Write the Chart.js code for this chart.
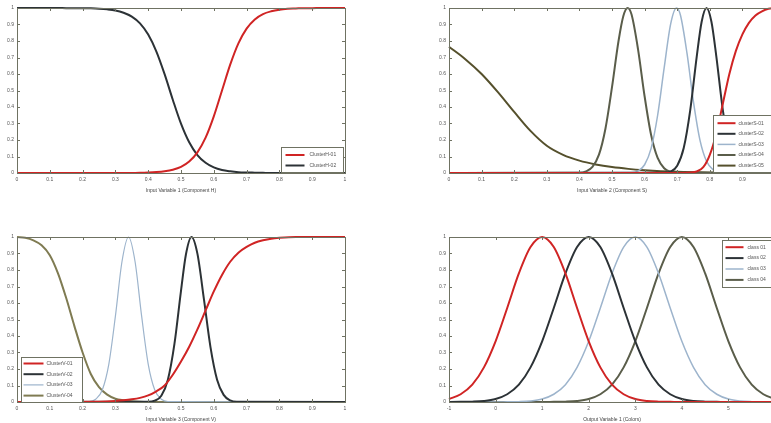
<!DOCTYPE html>
<html><head><meta charset="utf-8">
<script src="https://cdn.jsdelivr.net/npm/chart.js@4.4.1/dist/chart.umd.min.js"></script>
<style>
html,body{margin:0;padding:0;background:#fff;}
#wrap{position:relative;width:771px;height:423px;overflow:hidden;background:#fff;}
canvas{position:absolute;}
</style></head><body>
<div id="wrap">
<canvas id="c1" width="360" height="194" style="left:0px;top:0px"></canvas>
<canvas id="c2" width="360" height="194" style="left:430px;top:0px"></canvas>
<canvas id="c3" width="360" height="194" style="left:0px;top:229px"></canvas>
<canvas id="c4" width="360" height="194" style="left:430px;top:229px"></canvas>
</div>
<script>
// ---------- tick labels ----------
const unitTicks = ['0','0.1','0.2','0.3','0.4','0.5','0.6','0.7','0.8','0.9','1'];
const yTicks = ['0','0.1','0.2','0.3','0.4','0.5','0.6','0.7','0.8','0.9','1'];
const outTicks = ['-1','0','1','2','3','4','5','6'];

// ---------- plot 1 : Component H ----------
const hLabels = ['ClusterH-01','ClusterH-02'];
const hX = [0,0.025,0.05,0.075,0.1,0.125,0.15,0.175,0.2,0.225,0.25,0.275,0.3,0.325,0.35,0.375,0.4,0.425,0.45,0.475,0.5,0.525,0.55,0.575,0.6,0.625,0.65,0.675,0.7,0.725,0.75,0.775,0.8,0.825,0.85,0.875,0.9,0.925,0.95,0.975,1];
const h01 = [0,0,0,0,0,0,0,0,0,0,0,0,0,0,0,0.001,0.003,0.006,0.011,0.02,0.037,0.069,0.125,0.214,0.343,0.5,0.657,0.786,0.875,0.931,0.963,0.98,0.99,0.995,0.997,0.999,0.999,1,1,1,1];
const h02 = [1,1,1,1,1,1,0.999,0.999,0.999,0.998,0.996,0.992,0.985,0.971,0.948,0.907,0.839,0.736,0.599,0.444,0.299,0.186,0.109,0.062,0.034,0.018,0.01,0.005,0.003,0.002,0.001,0,0,0,0,0,0,0,0,0,0];

// ---------- plot 2 : Component S ----------
const sLabels = ['clusterS-01','clusterS-02','clusterS-03','clusterS-04','clusterS-05'];
const s01X = [0,0.70,0.74,0.76,0.78,0.80,0.82,0.84,0.86,0.88,0.90,0.92,0.94,0.96,0.98,1.0];
const s01Y = [0,0,0.003,0.01,0.035,0.11,0.24,0.42,0.60,0.74,0.84,0.91,0.955,0.98,0.995,1];
const s02X = [0,0.66,0.68,0.70,0.72,0.74,0.76,0.775,0.79,0.805,0.82,0.84,0.86,0.88,0.90,0.92,1];
const s02Y = [0,0.002,0.009,0.044,0.151,0.381,0.707,0.917,1,0.917,0.707,0.381,0.151,0.044,0.009,0.002,0];
const s03X = [0,0.56,0.58,0.60,0.62,0.64,0.66,0.68,0.698,0.71,0.73,0.75,0.77,0.79,0.81,0.83,0.85,1];
const s03Y = [0,0.003,0.013,0.05,0.149,0.35,0.637,0.904,1,0.956,0.726,0.43,0.198,0.071,0.02,0.004,0.001,0];
const s04X = [0,0.40,0.42,0.44,0.46,0.48,0.50,0.52,0.535,0.548,0.56,0.58,0.60,0.62,0.64,0.66,0.68,0.70,1];
const s04Y = [0,0.002,0.01,0.037,0.111,0.27,0.52,0.8,0.953,1,0.96,0.748,0.465,0.23,0.091,0.029,0.007,0.001,0];
const s05X = [0,0.05,0.1,0.15,0.2,0.25,0.3,0.35,0.4,0.45,0.5,0.55,0.6,0.65,0.7,0.8,0.9,1];
const s05Y = [0.765,0.69,0.6,0.49,0.37,0.255,0.165,0.11,0.075,0.052,0.036,0.025,0.017,0.011,0.007,0.003,0.001,0];

// ---------- plot 3 : Component V ----------
const vLabels = ['ClusterV-01','ClusterV-02','ClusterV-03','ClusterV-04'];
const v01X = [0,0.25,0.3,0.325,0.35,0.375,0.4,0.425,0.45,0.475,0.5,0.525,0.55,0.575,0.6,0.625,0.65,0.675,0.7,0.725,0.75,0.775,0.8,0.85,1];
const v01Y = [0,0.002,0.006,0.01,0.016,0.025,0.04,0.065,0.1,0.165,0.245,0.335,0.44,0.555,0.67,0.77,0.85,0.905,0.94,0.965,0.98,0.99,0.995,1,1];
const v02X = [0,0.40,0.42,0.44,0.46,0.48,0.50,0.515,0.532,0.55,0.57,0.59,0.61,0.63,0.65,0.67,1];
const v02Y = [0,0.001,0.008,0.038,0.135,0.352,0.674,0.894,1,0.899,0.622,0.331,0.135,0.043,0.01,0.002,0];
const v03X = [0,0.22,0.24,0.26,0.28,0.30,0.32,0.34,0.36,0.38,0.40,0.42,0.44,0.46,1];
const v03Y = [0,0.003,0.017,0.073,0.23,0.52,0.85,1,0.85,0.52,0.23,0.073,0.017,0.003,0];
const v04X = [0,0.025,0.05,0.075,0.1,0.125,0.15,0.175,0.2,0.225,0.25,0.275,0.3,0.325,0.35,0.375,0.4,1];
const v04Y = [1,0.995,0.98,0.95,0.89,0.78,0.63,0.46,0.3,0.17,0.09,0.045,0.02,0.01,0.004,0.001,0,0];

// ---------- plot 4 : Output (Colors) ----------
const oLabels = ['class 01','class 02','class 03','class 04'];
const oX = [-1,-0.75,-0.5,-0.25,0,0.25,0.5,0.75,1,1.25,1.5,1.75,2,2.25,2.5,2.75,3,3.25,3.5,3.75,4,4.25,4.5,4.75,5,5.25,5.5,5.75,6];
const o01 = [0.018,0.047,0.105,0.21,0.368,0.57,0.779,0.939,1,0.939,0.779,0.57,0.368,0.21,0.105,0.047,0.018,0.006,0.002,0.001,0,0,0,0,0,0,0,0,0];
const o02 = [0,0.001,0.002,0.006,0.018,0.047,0.105,0.21,0.368,0.57,0.779,0.939,1,0.939,0.779,0.57,0.368,0.21,0.105,0.047,0.018,0.006,0.002,0.001,0,0,0,0,0];
const o03 = [0,0,0,0,0,0.001,0.002,0.006,0.018,0.047,0.105,0.21,0.368,0.57,0.779,0.939,1,0.939,0.779,0.57,0.368,0.21,0.105,0.047,0.018,0.006,0.002,0.001,0];
const o04 = [0,0,0,0,0,0,0,0,0,0.001,0.002,0.006,0.018,0.047,0.105,0.21,0.368,0.57,0.779,0.939,1,0.939,0.779,0.57,0.368,0.21,0.105,0.047,0.018];

// ---------- helpers ----------
const FONT = 'Liberation Sans, Arial, sans-serif';
const pts = (xs, ys) => xs.map((x, i) => ({x: x, y: ys[i]}));

const matBox = {
  id: 'matBox',
  afterDatasetsDraw(chart) {
    const {ctx, chartArea: a, scales} = chart;
    const L = 3;
    ctx.save();
    ctx.strokeStyle = '#6f7262';
    ctx.lineWidth = 1;
    ctx.beginPath();
    scales.x.ticks.forEach(t => {
      const px = Math.round(scales.x.getPixelForValue(t.value)) + 0.5;
      ctx.moveTo(px, a.bottom); ctx.lineTo(px, a.bottom - L);
      ctx.moveTo(px, a.top); ctx.lineTo(px, a.top + L);
    });
    scales.y.ticks.forEach(t => {
      const py = Math.round(scales.y.getPixelForValue(t.value)) + 0.5;
      ctx.moveTo(a.left, py); ctx.lineTo(a.left + L, py);
      ctx.moveTo(a.right, py); ctx.lineTo(a.right - L, py);
    });
    ctx.stroke();
    ctx.strokeRect(Math.round(a.left) + 0.5, Math.round(a.top) + 0.5, Math.round(a.right - a.left), Math.round(a.bottom - a.top));
    ctx.restore();
  }
};

const matLegend = {
  id: 'matLegend',
  afterDraw(chart, args, o) {
    if (!o || o.left === undefined) return;
    const {ctx, chartArea: a} = chart;
    const bx = Math.round(a.left + o.left) + 0.5, by = Math.round(a.top + o.top) + 0.5;
    ctx.save();
    ctx.fillStyle = '#ffffff';
    ctx.fillRect(bx, by, o.width, o.height);
    ctx.strokeStyle = '#6f7262';
    ctx.lineWidth = 1;
    ctx.strokeRect(bx, by, o.width, o.height);
    ctx.font = '5px ' + FONT;
    ctx.textBaseline = 'middle';
    chart.data.datasets.forEach((ds, i) => {
      const y = by + o.first + i * o.gap;
      ctx.strokeStyle = ds.borderColor;
      ctx.lineWidth = ds.borderWidth;
      ctx.beginPath();
      ctx.moveTo(bx + o.l0, y); ctx.lineTo(bx + o.l1, y);
      ctx.stroke();
      ctx.fillStyle = '#555';
      ctx.fillText(ds.label, bx + o.tx, y);
    });
    ctx.restore();
  }
};

function ds(label, data, color, width) {
  return {label, data, borderColor: color, borderWidth: width, pointRadius: 0, fill: false,
          cubicInterpolationMode: 'monotone', clip: 3};
}

function makeChart(id, datasets, xmin, xmax, xstep, xLabels, title, yW, legend) {
  return new Chart(document.getElementById(id), {
    type: 'line',
    data: {datasets},
    plugins: [matBox, matLegend],
    options: {
      responsive: false, animation: false, devicePixelRatio: 1,
      layout: {padding: {left: 0, right: 15, top: 8, bottom: 0}},
      plugins: {legend: {display: false}, tooltip: {enabled: false}, matLegend: legend},
      scales: {
        x: {type: 'linear', min: xmin, max: xmax,
            grid: {display: false, drawTicks: false}, border: {display: false},
            ticks: {stepSize: xstep, autoSkip: false, maxRotation: 0, padding: 4,
                    font: {size: 5, family: FONT}, color: '#555',
                    callback: (v, i) => xLabels[i]},
            title: {display: true, text: title, color: '#444', font: {size: 5, family: FONT},
                    padding: {top: 0, bottom: 0}},
            afterFit: s => { s.height = 21; }},
        y: {type: 'linear', min: 0, max: 1,
            grid: {display: false, drawTicks: false}, border: {display: false},
            ticks: {stepSize: 0.1, autoSkip: false, padding: 3,
                    font: {size: 5, family: FONT}, color: '#555',
                    callback: (v, i) => yTicks[i]},
            afterFit: s => { s.width = yW; }}
      }
    }
  });
}

const RED = '#d02424', DARK = '#2c3236', LIGHT = '#9db4cc', OLIVE = '#5a5d4a', BROWN = '#55502c', KHAKI = '#7f7b52';

makeChart('c1', [
  ds(hLabels[0], pts(hX, h01), RED, 2),
  ds(hLabels[1], pts(hX, h02), DARK, 2)
], 0, 1, 0.1, unitTicks, 'Input Variable 1 (Component H)', 17,
  {left: 264, top: 139, width: 62, height: 25, first: 7.5, gap: 10.5, l0: 4, l1: 23, tx: 28});

makeChart('c2', [
  ds(sLabels[0], pts(s01X, s01Y), RED, 2),
  ds(sLabels[1], pts(s02X, s02Y), DARK, 2),
  ds(sLabels[2], pts(s03X, s03Y), LIGHT, 1.5),
  ds(sLabels[3], pts(s04X, s04Y), OLIVE, 2),
  ds(sLabels[4], pts(s05X, s05Y), BROWN, 2)
], 0, 1, 0.1, unitTicks, 'Input Variable 2 (Component S)', 19,
  {left: 264, top: 107, width: 66, height: 57, first: 7.7, gap: 10.6, l0: 4, l1: 22, tx: 25});

makeChart('c3', [
  ds(vLabels[0], pts(v01X, v01Y), RED, 2),
  ds(vLabels[1], pts(v02X, v02Y), DARK, 2),
  ds(vLabels[2], pts(v03X, v03Y), LIGHT, 1.2),
  ds(vLabels[3], pts(v04X, v04Y), KHAKI, 2)
], 0, 1, 0.1, unitTicks, 'Input Variable 3 (Component V)', 17,
  {left: 4, top: 120, width: 61, height: 45, first: 6, gap: 10.7, l0: 2, l1: 22, tx: 25});

makeChart('c4', [
  ds(oLabels[0], pts(oX, o01), RED, 2),
  ds(oLabels[1], pts(oX, o02), DARK, 2),
  ds(oLabels[2], pts(oX, o03), LIGHT, 1.5),
  ds(oLabels[3], pts(oX, o04), OLIVE, 2)
], -1, 6, 1, outTicks, 'Output Variable 1 (Colors)', 19,
  {left: 273, top: 3, width: 62, height: 47, first: 6.7, gap: 10.9, l0: 3, l1: 21, tx: 25});
</script>
</body></html>
